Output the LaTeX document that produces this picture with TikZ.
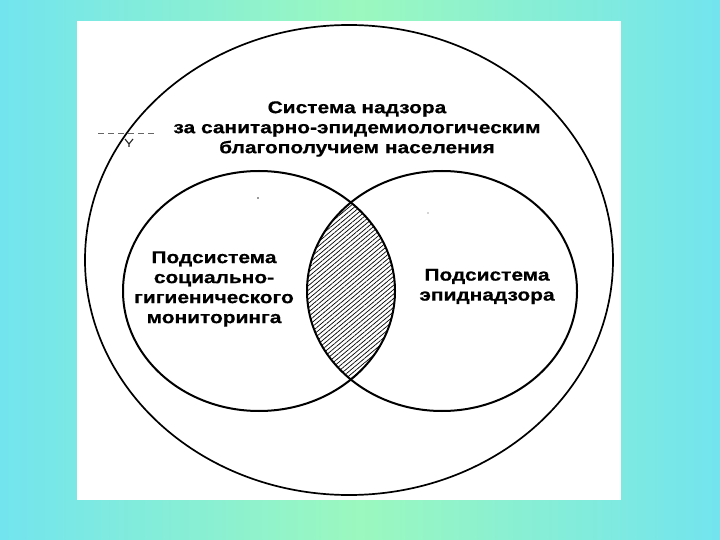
\documentclass[tikz,border=0pt]{standalone}
\usepackage{fontspec}
\usepackage{graphicx}
\setmainfont{Liberation Sans}[BoldFeatures={FakeBold=0.6}]
\usetikzlibrary{patterns.meta}
\definecolor{edgecyan}{HTML}{72E4EE}
\definecolor{midgreen}{HTML}{9BF8BE}
\newcommand\wideline[1]{\scalebox{1.23}[1]{#1}}
\tikzset{
  ring/.style={draw=black, line width=2pt},
  outer/.style={draw=black, line width=1.7pt},
  lbl/.style={font=\bfseries\fontsize{17}{20}\selectfont, align=center, inner sep=0pt, text=black}
}
\begin{document}
\begin{tikzpicture}[x=1pt,y=-1pt]
\useasboundingbox (0,0) rectangle (720,540);
\shade[left color=edgecyan, right color=edgecyan, middle color=midgreen] (0,0) rectangle (720,540);
\fill[white] (77,21) rectangle (621,500);
% hatched lens
\begin{scope}
  \clip (259,291) ellipse [x radius=136pt, y radius=120pt];
  \fill[pattern={Lines[angle=40,distance=3.4pt,line width=0.7pt]}] (442,291) ellipse [x radius=135pt, y radius=120pt];
\end{scope}
\draw[outer] (349,260) ellipse [x radius=264pt, y radius=235pt];
\draw[ring] (259,291) ellipse [x radius=136pt, y radius=120pt];
\draw[ring] (442,291) ellipse [x radius=135pt, y radius=120pt];
% scan marks
\draw[line width=0.6pt, dash pattern=on 6pt off 4pt, black!60] (98,133) -- (157,133);
\draw[line width=1.1pt, black!85] (125,139) -- (129,144) -- (133,139) (129,144) -- (129,147);
\fill[black!80] (258,198) circle (0.8pt);
\fill[black!70] (428,213) circle (0.7pt);
% texts
\node[lbl] (title) at (357,129) {\wideline{Система надзора}\\\wideline{за санитарно-эпидемиологическим}\\\wideline{благополучием населения}};
\node[lbl] (left) at (214,289) {\wideline{Подсистема}\\\wideline{социально-}\\\wideline{гигиенического}\\\wideline{мониторинга}};
\node[lbl] (right) at (487,286.5) {\wideline{Подсистема}\\\wideline{эпиднадзора}};
\end{tikzpicture}
\end{document}
